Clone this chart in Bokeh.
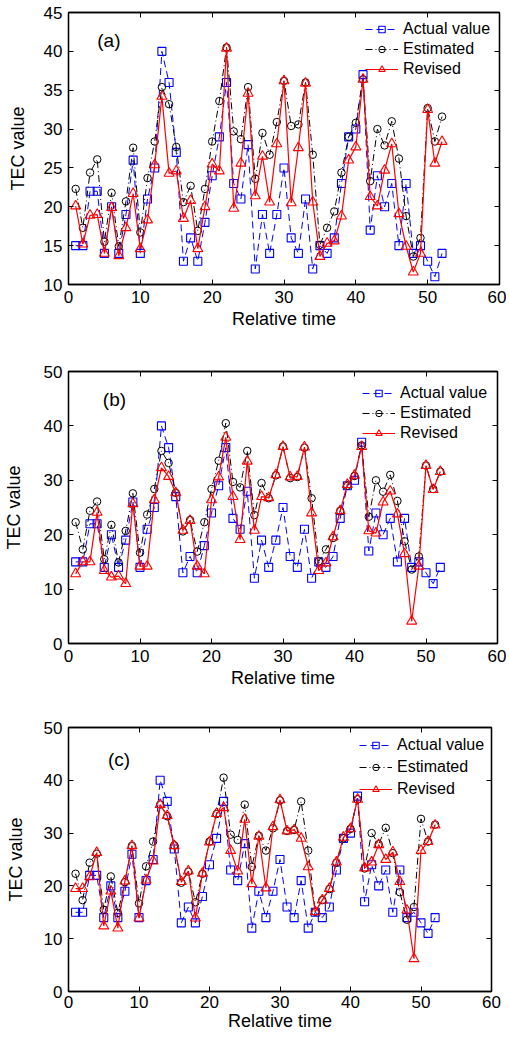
from bokeh.plotting import figure
from bokeh.layouts import column
from bokeh.models import (Range1d, LinearAxis, FixedTicker, Legend, LegendItem,
                          Label, ColumnDataSource)
from bokeh.embed import file_html
from bokeh.resources import INLINE

time = list(range(1, 53))
actual = [15, 15, 22, 22, 14, 20, 14, 19, 26, 14,
          21, 25, 40, 36, 27, 13, 16, 13, 18, 24,
          29, 36, 23, 21, 28, 12, 19, 14, 19, 25,
          16, 14, 21, 12, 15, 14, 16, 23, 29, 30,
          37, 17, 24, 20, 23, 15, 23, 14, 15, 13, 11, 14]
estimated = [22.3, 17.3, 24.4, 26.1, 15.5, 21.8, 14.9, 20.7, 27.6, 16.7,
             23.7, 28.4, 35.4, 33.2, 27.7, 20.6, 22.7, 16.9, 22.3, 28.4,
             33.6, 40.5, 29.7, 28.7, 35.4, 23.6, 29.5, 26.7, 30.9, 36.2,
             30.4, 30.6, 36.0, 26.7, 15.1, 17.3, 19.4, 24.4, 29.0, 30.8,
             36.4, 23.3, 30.0, 27.9, 31.0, 26.2, 18.8, 13.6, 16.0, 32.7, 28.4, 31.6]
revised_a = [20.1, 15.2, 18.9, 19.0, 14.0, 19.9, 13.7, 17.3, 21.7, 14.6,
             18.3, 25.4, 34.2, 24.3, 24.6, 18.5, 20.8, 14.6, 20.0, 25.5,
             24.6, 40.4, 19.8, 25.6, 34.6, 21.4, 26.5, 20.6, 28.1, 36.2,
             20.5, 27.6, 35.9, 20.6, 13.6, 15.3, 15.6, 18.8, 26.0, 27.7,
             36.4, 21.3, 20.1, 24.7, 28.1, 19.1, 14.9, 11.6, 14.0, 32.5, 25.6, 28.4]
revised_b = [12.8, 15.0, 15.0, 24.1, 13.4, 12.2, 12.4, 11.0, 25.7, 14.2,
             14.2, 26.4, 32.3, 30.7, 27.7, 20.8, 22.6, 14.2, 12.8, 26.4,
             30.6, 37.9, 27.0, 19.1, 33.5, 20.8, 27.0, 26.8, 31.0, 36.2,
             30.6, 30.7, 36.1, 24.0, 13.4, 14.8, 19.6, 24.4, 29.2, 30.9,
             36.2, 20.7, 20.3, 26.0, 28.0, 23.8, 16.5, 4.1, 14.2, 32.7, 28.3, 31.6]
revised_c = [19.5, 19.5, 21.7, 26.3, 12.4, 19.0, 12.0, 20.9, 27.6, 13.9,
             21.1, 24.7, 35.4, 33.3, 27.6, 20.8, 22.8, 13.9, 22.4, 28.3,
             33.7, 34.8, 26.7, 22.8, 32.6, 20.4, 29.4, 19.6, 31.2, 36.3,
             30.4, 30.6, 29.0, 23.6, 15.1, 17.3, 19.5, 24.5, 29.2, 30.8,
             36.4, 23.4, 24.5, 27.8, 25.0, 26.4, 20.8, 15.4, 6.2, 26.7, 28.4, 31.5]

x_ticks = [0, 10, 20, 30, 40, 50, 60]
y_ticks_a = [10, 15, 20, 25, 30, 35, 40, 45]
y_ticks_bc = [0, 10, 20, 30, 40, 50]
series_labels = ["Actual value", "Estimated", "Revised"]
panel_tags = ["(a)", "(b)", "(c)"]

FONT = "Liberation Sans"


def style_axis(ax, ticks, show_labels=True):
    ax.ticker = FixedTicker(ticks=ticks)
    ax.major_tick_in = 5
    ax.major_tick_out = 0
    ax.minor_tick_line_color = None
    ax.axis_line_color = "black"
    ax.axis_line_width = 1.3
    ax.major_tick_line_color = "black"
    ax.major_tick_line_width = 1
    if show_labels:
        ax.major_label_text_font = FONT
        ax.major_label_text_font_size = "17px"
        ax.major_label_text_color = "black"
        ax.axis_label_text_font = FONT
        ax.axis_label_text_font_size = "18px"
        ax.axis_label_text_font_style = "normal"
        ax.axis_label_text_color = "black"
    else:
        ax.major_label_text_font_size = "0px"
        ax.major_label_text_color = None
        ax.major_label_standoff = 0
        ax.axis_label_standoff = 0


def make_panel(revised, yr, yticks, tag, tag_xy, frame, borders, ylab_standoff,
               xlab_standoff, xtick_standoff, leg_xy, leg_lh):
    left, right, top, bottom = borders
    src = ColumnDataSource(dict(t=time, act=actual, est=estimated, rev=revised))
    p = figure(frame_width=frame[0], frame_height=frame[1],
               x_range=Range1d(0, 60), y_range=Range1d(*yr),
               output_backend="svg", toolbar_location=None,
               min_border_left=left, min_border_right=right,
               min_border_top=top, min_border_bottom=bottom)
    p.xgrid.visible = False
    p.ygrid.visible = False
    p.outline_line_color = "black"
    p.outline_line_width = 1.3
    p.outline_line_alpha = 1
    p.background_fill_color = "white"
    p.border_fill_color = "white"

    style_axis(p.xaxis[0], x_ticks)
    style_axis(p.yaxis[0], yticks)
    p.xaxis.axis_label = "Relative time"
    p.yaxis.axis_label = "TEC value"
    p.yaxis.major_label_standoff = 6
    p.xaxis.major_label_standoff = xtick_standoff
    p.yaxis.axis_label_standoff = ylab_standoff
    p.xaxis.axis_label_standoff = xlab_standoff

    top_ax = LinearAxis()
    style_axis(top_ax, x_ticks, show_labels=False)
    p.add_layout(top_ax, "above")
    right_ax = LinearAxis()
    style_axis(right_ax, yticks, show_labels=False)
    p.add_layout(right_ax, "right")

    l1 = p.line("t", "act", source=src, line_color="blue", line_dash="7 4", line_width=1)
    s1 = p.scatter("t", "act", source=src, marker="square", size=8,
                   line_color="blue", fill_color=None, line_width=1.1)
    l2 = p.line("t", "est", source=src, line_color="black", line_dash="7 3 1 3", line_width=1)
    s2 = p.scatter("t", "est", source=src, marker="circle", size=7.5,
                   line_color="black", fill_color=None, line_width=1)
    l3 = p.line("t", "rev", source=src, line_color="red", line_width=1.2)
    s3 = p.scatter("t", "rev", source=src, marker="triangle", size=10,
                   line_color="red", fill_color=None, line_width=1.1)

    legend = Legend(items=[LegendItem(label=series_labels[0], renderers=[l1, s1]),
                           LegendItem(label=series_labels[1], renderers=[l2, s2]),
                           LegendItem(label=series_labels[2], renderers=[l3, s3])],
                    location=leg_xy, border_line_color=None,
                    background_fill_alpha=0, label_text_font=FONT,
                    label_text_font_size="16px", label_text_color="black",
                    glyph_width=33, glyph_height=16, label_height=leg_lh, spacing=0,
                    padding=5, margin=0, label_standoff=5)
    p.add_layout(legend)

    p.add_layout(Label(x=tag_xy[0], y=tag_xy[1], text=tag, text_font=FONT,
                       text_font_size="19px", text_baseline="middle", text_color="black"))
    return p


pa = make_panel(revised_a, (10, 45), y_ticks_a, panel_tags[0], (4.0, 41.4),
                (431, 272), (58, 11, 12, 63), 13, 3, 6, (297, 205), 20)
pb = make_panel(revised_b, (0, 50), y_ticks_bc, panel_tags[1], (4.8, 44.9),
                (429, 272), (62, 9, 24, 65), 17, 3, 6, (294, 200), 20)
pc = make_panel(revised_c, (0, 50), y_ticks_bc, panel_tags[2], (5.6, 44.0),
                (423, 264), (60, 16, 19, 42), 15, 0, 4, (291, 191), 22)

layout = column(pa, pb, pc, spacing=0)
open("out.html", "w").write(file_html(layout, INLINE))
